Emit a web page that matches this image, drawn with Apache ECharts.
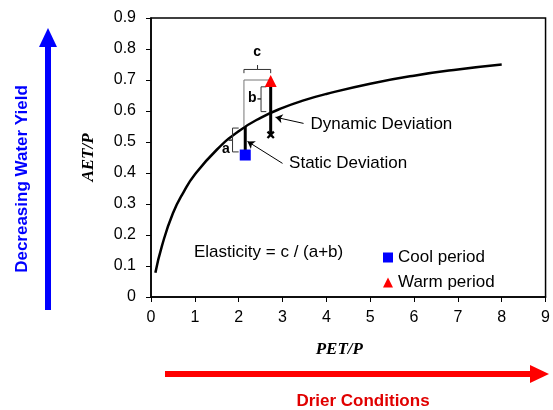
<!DOCTYPE html>
<html><head><meta charset="utf-8">
<script src="https://cdn.jsdelivr.net/npm/echarts@6/dist/echarts.min.js"></script>
<style>html,body{margin:0;padding:0;background:#fff}#c{width:553px;height:410px}</style>
</head><body><div id="c"></div>
<script>
// Budyko-type curve (PET/P vs AET/P)
const curveX = [0.1, 0.25, 0.5, 0.75, 1, 1.5, 2, 2.5, 3, 3.5, 4, 5, 6, 7, 8];
const curveY = [0.078, 0.165, 0.27, 0.34, 0.395, 0.475, 0.535, 0.578, 0.61, 0.635, 0.655, 0.688, 0.714, 0.734, 0.75];
// observations
const coolPoint = [2.15, 0.458];
const warmPoint = [2.73, 0.697];
const curveAtWarm = [2.73, 0.523];
// annotation geometry (data coordinates)
const staticSeg = [[2.15, 0.458], [2.15, 0.55]];
const dynamicSeg = [[2.73, 0.697], [2.73, 0.523]];
const guideSeg = [[2.12, 0.55], [2.12, 0.70], [2.73, 0.70]];
const bracketA = [[2.0, 0.545], [1.86, 0.545], [1.86, 0.506], [1.77, 0.506], [1.86, 0.506], [1.86, 0.468], [2.0, 0.468]];
const bracketB = [[2.63, 0.678], [2.51, 0.678], [2.51, 0.639], [2.43, 0.639], [2.51, 0.639], [2.51, 0.598], [2.63, 0.598]];
const bracketC = [[2.12, 0.722], [2.12, 0.734], [2.43, 0.734], [2.43, 0.748], [2.43, 0.734], [2.73, 0.734], [2.73, 0.722]];
const arrowDynamic = [[3.48, 0.56], [2.84, 0.58]];
const arrowStatic = [[3.0, 0.431], [2.2, 0.502]];
const texts = [
  {name: 'Dynamic Deviation', pos: [3.64, 0.558]},
  {name: 'Static Deviation', pos: [3.15, 0.432]},
  {name: 'Elasticity = c / (a+b)', pos: [0.98, 0.143]},
  {name: 'a', pos: [1.62, 0.478], bold: true},
  {name: 'b', pos: [2.21, 0.64], bold: true},
  {name: 'c', pos: [2.33, 0.79], bold: true}
];
const xTicks = [0, 1, 2, 3, 4, 5, 6, 7, 8, 9];
const yTicks = [0, 0.1, 0.2, 0.3, 0.4, 0.5, 0.6, 0.7, 0.8, 0.9];

const F = 'Liberation Sans, Arial, sans-serif';
const chart = echarts.init(document.getElementById('c'));
const seg = (d, w, c) => ({type: 'line', data: d, symbol: 'none', silent: true,
  lineStyle: {color: c || '#000', width: w}, z: 3});
chart.setOption({
  animation: false,
  grid: {left: 151, right: 2, top: 18, bottom: 113, show: true, borderColor: '#000', borderWidth: 1.5},
  xAxis: {type: 'value', min: xTicks[0], max: xTicks[xTicks.length - 1], interval: 1,
    name: 'PET/P', nameLocation: 'middle', nameGap: 44,
    nameTextStyle: {fontFamily: 'Liberation Serif', fontStyle: 'italic', fontWeight: 'bold', fontSize: 17, color: '#000', padding: [0, 18, 0, 0]},
    axisLine: {lineStyle: {color: '#000', width: 1.5}},
    axisTick: {lineStyle: {color: '#000'}, length: 5},
    axisLabel: {fontFamily: F, fontSize: 16, color: '#000', margin: 13},
    splitLine: {show: false}},
  yAxis: {type: 'value', min: yTicks[0], max: yTicks[yTicks.length - 1], interval: 0.1,
    name: 'AET/P', nameLocation: 'middle', nameGap: 54,
    nameTextStyle: {fontFamily: 'Liberation Serif', fontStyle: 'italic', fontWeight: 'bold', fontSize: 17, color: '#000'},
    axisLine: {show: true, lineStyle: {color: '#000', width: 1.5}},
    axisTick: {show: true, lineStyle: {color: '#000'}, length: 5},
    axisLabel: {fontFamily: F, fontSize: 16, color: '#000', margin: 15,
      formatter: v => String(Math.round(v * 10) / 10)},
    splitLine: {show: false}},
  legend: {orient: 'vertical', left: 378, top: 244, itemWidth: 10, itemHeight: 10, itemGap: 8,
    textStyle: {fontFamily: F, fontSize: 17, color: '#000'},
    data: [{name: 'Cool period', icon: 'rect'}, {name: 'Warm period', icon: 'triangle'}]},
  series: [
    {type: 'line', name: 'curve', data: curveX.map((x, i) => [x, curveY[i]]), smooth: true,
      symbol: 'none', lineStyle: {color: '#000', width: 2.5}, z: 2, silent: true},
    seg(guideSeg, 1, '#777'),
    seg(staticSeg, 3),
    seg(dynamicSeg, 3),
    seg(bracketA, 1, '#333'),
    seg(bracketB, 1, '#333'),
    seg(bracketC, 1, '#333'),
    {type: 'line', data: [], silent: true, markLine: {silent: true, symbol: ['none', 'arrow'], symbolSize: 7,
      lineStyle: {color: '#000', width: 1, type: 'solid'}, label: {show: false},
      data: [
        [{coord: arrowDynamic[0]}, {coord: arrowDynamic[1]}],
        [{coord: arrowStatic[0]}, {coord: arrowStatic[1]}]
      ]}},
    {type: 'scatter', data: [curveAtWarm], symbol: 'path://M2,0 L5,3 L8,0 L10,2 L7,5 L10,8 L8,10 L5,7 L2,10 L0,8 L3,5 L0,2 Z',
      symbolSize: 8, itemStyle: {color: '#000', opacity: 1}, z: 5, silent: true},
    {type: 'scatter', name: 'Cool period', data: [coolPoint], symbol: 'rect', symbolSize: 11,
      itemStyle: {color: '#0000ff', opacity: 1}, z: 6},
    {type: 'scatter', name: 'Warm period', data: [warmPoint], symbol: 'triangle', symbolSize: 12,
      itemStyle: {color: '#ff0000', opacity: 1}, z: 6},
    {type: 'scatter', silent: true, symbolSize: 0, z: 7, itemStyle: {opacity: 1},
      data: texts.map(t => ({value: t.pos, name: t.name,
        label: {show: true, position: 'right', distance: 0, formatter: t.name,
          fontFamily: F, fontSize: t.bold ? 14 : 17, fontWeight: t.bold ? 'bold' : 'normal', color: '#000'}}))}
  ],
  graphic: [
    {type: 'line', shape: {x1: 48, y1: 310, x2: 48, y2: 44}, style: {stroke: '#0000ff', lineWidth: 6}},
    {type: 'polygon', shape: {points: [[48, 28], [39, 47], [57, 47]]}, style: {fill: '#0000ff'}},
    {type: 'text', x: 22, y: 179, rotation: Math.PI / 2, style: {text: 'Decreasing Water Yield',
      fill: '#0000ff', font: 'bold 17px Liberation Sans', textAlign: 'center', textVerticalAlign: 'middle'}},
    {type: 'line', shape: {x1: 165, y1: 374, x2: 532, y2: 374}, style: {stroke: '#ff0000', lineWidth: 6}},
    {type: 'polygon', shape: {points: [[549, 374], [530, 365], [530, 383]]}, style: {fill: '#ff0000'}},
    {type: 'text', x: 363, y: 401, style: {text: 'Drier Conditions',
      fill: '#e00000', font: 'bold 17px Liberation Sans', textAlign: 'center', textVerticalAlign: 'middle'}}
  ]
});
</script></body></html>
